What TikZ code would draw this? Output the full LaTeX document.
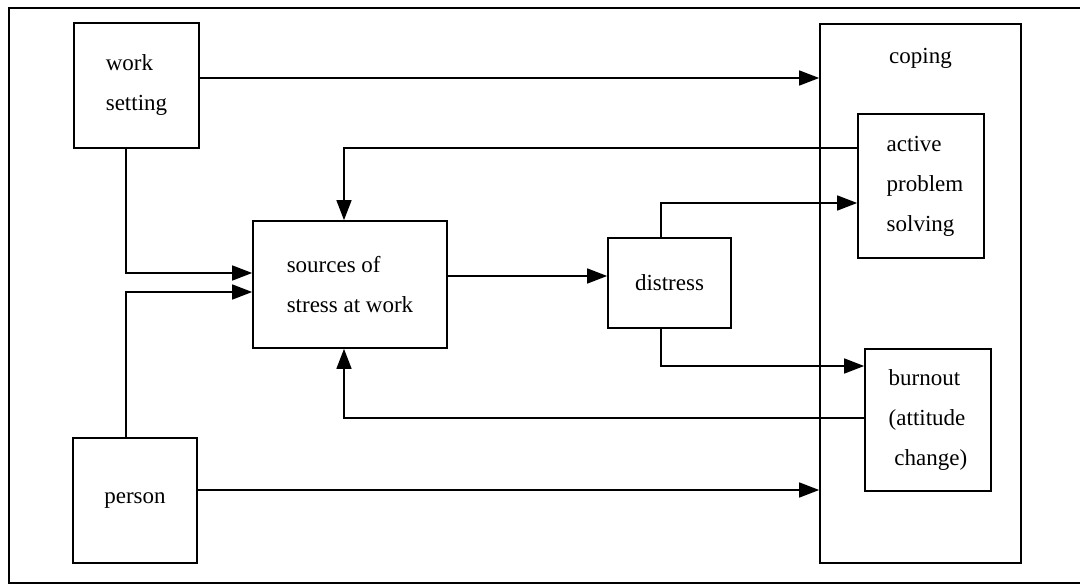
\documentclass[tikz,border=0pt]{standalone}
\usepackage{fontspec}
\setmainfont{Liberation Serif}
\usetikzlibrary{arrows.meta}
\newcommand{\boxfont}{\fontsize{23}{40}\selectfont}
\begin{document}
\begin{tikzpicture}[x=1pt,y=-1pt,
  box/.style={draw,line width=1.7pt,inner sep=0pt,align=left,font=\boxfont},
  arr/.style={line width=1.5pt,-{Triangle[length=20pt,width=15pt]}}]
\useasboundingbox (0,0) rectangle (1080,586);
\draw[line width=1.7pt] (1080,8) -- (9,8) -- (9,583) -- (1080,583);

\node[box,minimum width=125pt,minimum height=125pt] (work) at (136.5,85.5) {work\\setting};
\node[box,minimum width=124pt,minimum height=125pt] (person) at (135,500.5) {person};
\node[box,minimum width=194pt,minimum height=127pt] (sources) at (350,284.5) {sources of\\stress at work\hspace{14pt}};
\node[box,minimum width=123pt,minimum height=90pt] (distress) at (669.5,283) {distress};
\node[box,minimum width=201pt,minimum height=539pt,
  label={[font=\boxfont,anchor=north,yshift=-22pt]north:coping}] (coping) at (920.5,293.5) {};
\node[box,minimum width=126pt,minimum height=144pt] (active) at (921,186) {\hspace{8pt}active\\\hspace{8pt}problem\\\hspace{8pt}solving};
\node[box,minimum width=126pt,minimum height=142pt] (burnout) at (928,420) {burnout\\(attitude\\\ change)};

% work setting -> coping
\coordinate (ws) at ([yshift=7.5pt]work.east);
\draw[arr] (ws) -- (ws -| coping.west);
% person -> coping
\coordinate (pe) at ([yshift=10.5pt]person.east);
\draw[arr] (pe) -- (pe -| coping.west);
% work setting -> sources
\draw[arr] ([xshift=-10.5pt]work.south) |- ([yshift=11.5pt]sources.west);
% person -> sources
\draw[arr] ([xshift=-9pt]person.north) |- ([yshift=-7.5pt]sources.west);
% active -> sources
\draw[arr] ([yshift=38pt]active.west) -| ([xshift=-6pt]sources.north);
% burnout -> sources
\draw[arr] ([yshift=2pt]burnout.west) -| ([xshift=-6pt]sources.south);
% sources -> distress
\coordinate (sd) at ([yshift=8.5pt]sources.east);
\draw[arr] (sd) -- (sd -| distress.west);
% distress -> active
\draw[arr] ([xshift=-8.5pt]distress.north) |- ([yshift=-17pt]active.west);
% distress -> burnout
\draw[arr] ([xshift=-8.5pt]distress.south) |- ([yshift=54pt]burnout.west);
\end{tikzpicture}
\end{document}
